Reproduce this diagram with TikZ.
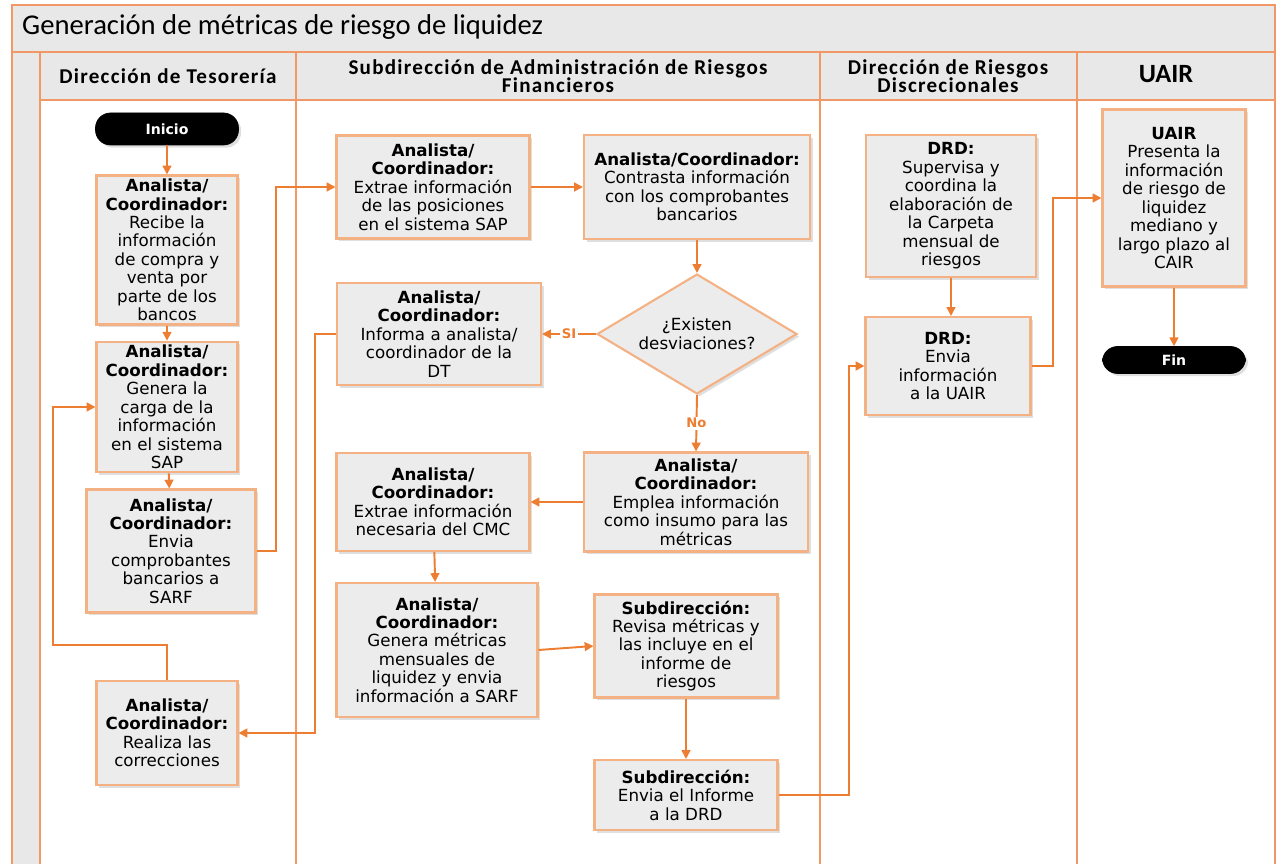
\documentclass[tikz,border=0pt]{standalone}
\usepackage{fontspec}
\setmainfont{DejaVu Sans}
\newfontfamily\titlefont{Carlito}
\newfontfamily\headfont[LetterSpace=6]{Carlito}
\usetikzlibrary{shapes.geometric,arrows.meta,shadows}
\definecolor{lineorange}{RGB}{237,125,49}
\definecolor{laneorange}{RGB}{240,152,102}
\definecolor{boxorange}{RGB}{244,177,131}
\definecolor{boxgray}{RGB}{236,236,236}
\definecolor{bandgray}{RGB}{232,232,232}
\newcommand{\who}[1]{\textbf{#1}}

\begin{document}
\begin{tikzpicture}[x=0.02cm,y=-0.02cm,>={Triangle[length=5pt,width=5pt]},
  lane/.style={draw=laneorange,line width=1.1pt},
  box/.style={draw=boxorange,line width=1.2pt,fill=boxgray,align=center,inner sep=2pt,
    font=\fontsize{9.5}{10.5}\selectfont,
    drop shadow={opacity=0.25,shadow xshift=1.5pt,shadow yshift=-1.5pt}},
  dec/.style={box,diamond,aspect=1.67,inner sep=0pt},
  term/.style={fill=black,draw=black,text=white,rounded corners=0.3cm,
    font=\bfseries\fontsize{8}{9}\selectfont,minimum width=2.86cm,
    drop shadow={opacity=0.25,shadow xshift=1.5pt,shadow yshift=-1.5pt}},
  head/.style={align=center,font=\headfont\bfseries\fontsize{12}{10.5}\selectfont},
  flow/.style={draw=lineorange,line width=1.1pt,->},
  lbl/.style={text=lineorange,font=\bfseries\fontsize{7.5}{8}\selectfont,fill=white,inner sep=1pt}]
  \useasboundingbox (0,0) rectangle (1276,864);
  \fill[bandgray] (12,5) rectangle (1275,100);
  \fill[bandgray] (12,100) rectangle (40,864);
  \draw[lane] (12,864) -- (12,5) -- (1275,5) -- (1275,864);
  \draw[lane] (12,52) -- (1275,52);
  \draw[lane] (40,100) -- (1275,100);
  \foreach \x in {40,296,820,1077}
    \draw[lane] (\x,52) -- (\x,864);

  \node[anchor=west,font=\titlefont\fontsize{16.3}{17}\selectfont] (ttl) at (16,27)
    {Generación de métricas de riesgo de liquidez};
  \node[head] (h1) at (168,76) {Dirección de Tesorería};
  \node[head] (h2) at (558,76) {Subdirección de Administración de Riesgos\\Financieros};
  \node[head] (h3) at (948,76) {Dirección de Riesgos\\Discrecionales};
  \node[head,font=\titlefont\bfseries\fontsize{15}{16}\selectfont] (h4) at (1166,74) {UAIR};

  \node[term,minimum height=0.64cm] (ini) at (167,129) {Inicio};
  \node[box,minimum width=2.82cm,minimum height=2.98cm] (a1) at (167,250)
    {\who{Analista/}\\\who{Coordinador:}\\Recibe la\\información\\de compra y\\venta por\\parte de los\\bancos};
  \node[box,minimum width=2.82cm,minimum height=2.6cm] (a2) at (167,407)
    {\who{Analista/}\\\who{Coordinador:}\\Genera la\\carga de la\\información\\en el sistema\\SAP};
  \node[box,minimum width=3.38cm,minimum height=2.46cm] (a3) at (171,551)
    {\who{Analista/}\\\who{Coordinador:}\\Envia\\comprobantes\\bancarios a\\SARF};
  \node[box,minimum width=2.82cm,minimum height=2.08cm] (a4) at (167,733)
    {\who{Analista/}\\\who{Coordinador:}\\Realiza las\\correcciones};

  \node[box,minimum width=3.86cm,minimum height=2.06cm] (b1) at (433,187)
    {\who{Analista/}\\\who{Coordinador:}\\Extrae información\\de las posiciones\\en el sistema SAP};
  \node[box,minimum width=4.52cm,minimum height=2.08cm] (b2) at (697,187)
    {\who{Analista/Coordinador:}\\Contrasta información\\con los comprobantes\\bancarios};
  \node[dec,minimum width=4cm,minimum height=2.4cm] (dd) at (697,334)
    {¿Existen\\desviaciones?};
  \node[box,minimum width=4.08cm,minimum height=2.04cm] (b3) at (439,334)
    {\who{Analista/}\\\who{Coordinador:}\\Informa a analista/\\coordinador de la\\DT};
  \node[box,minimum width=4.48cm,minimum height=1.98cm] (b4) at (696,502)
    {\who{Analista/}\\\who{Coordinador:}\\Emplea información\\como insumo para las\\métricas};
  \node[box,minimum width=3.86cm,minimum height=1.96cm] (b5) at (433,502)
    {\who{Analista/}\\\who{Coordinador:}\\Extrae información\\necesaria del CMC};
  \node[box,minimum width=4.02cm,minimum height=2.68cm] (b6) at (437,650)
    {\who{Analista/}\\\who{Coordinador:}\\Genera métricas\\mensuales de\\liquidez y envia\\información a SARF};
  \node[box,minimum width=3.66cm,minimum height=2.06cm] (b7) at (686,646)
    {\who{Subdirección:}\\Revisa métricas y\\las incluye en el\\informe de\\riesgos};
  \node[box,minimum width=3.66cm,minimum height=1.4cm] (b8) at (686,795)
    {\who{Subdirección:}\\Envia el Informe\\a la DRD};

  \node[box,minimum width=3.4cm,minimum height=2.84cm] (c1) at (951,206)
    {\who{DRD:}\\Supervisa y\\coordina la\\elaboración de\\la Carpeta\\mensual de\\riesgos};
  \node[box,minimum width=3.3cm,minimum height=1.96cm] (c2) at (948,366)
    {\who{DRD:}\\Envia\\información\\a la UAIR};

  \node[box,minimum width=2.86cm,minimum height=3.54cm] (e1) at (1174,198)
    {\who{UAIR}\\Presenta la\\información\\de riesgo de\\liquidez\\mediano y\\largo plazo al\\CAIR};
  \node[term,minimum height=0.54cm] (fin) at (1174,360) {Fin};

  \draw[flow] (ini) -- (a1);
  \draw[flow] (a1) -- (a2);
  \draw[flow] (a2) -- (a3);
  \draw[flow] (a3.east) -- ++(19,0) |- (b1.west);
  \draw[flow] (b1) -- (b2);
  \draw[flow] (b2) -- (dd);
  \draw[flow] (dd.west) -- node[lbl] {SI} (b3.east);
  \draw[flow] (b3.west) -- ++(-21,0) |- (a4.east);
  \draw[flow] (a4.north) |- (53,645) |- (a2.west);
  \draw[flow] (dd.south) -- node[lbl] {No} (b4.north);
  \draw[flow] (b4) -- (b5);
  \draw[flow] (b5) -- (b6);
  \draw[flow] (b6.east) -- (b7.west);
  \draw[flow] (b7) -- (b8);
  \draw[flow] (b8.east) -- ++(70,0) |- (c2.west);
  \draw[flow] (c1.south) -- (c1.south |- c2.north);
  \draw[flow] (c2.east) -- ++(21,0) |- (e1.west);
  \draw[flow] (e1) -- (fin);
\end{tikzpicture}
\end{document}
